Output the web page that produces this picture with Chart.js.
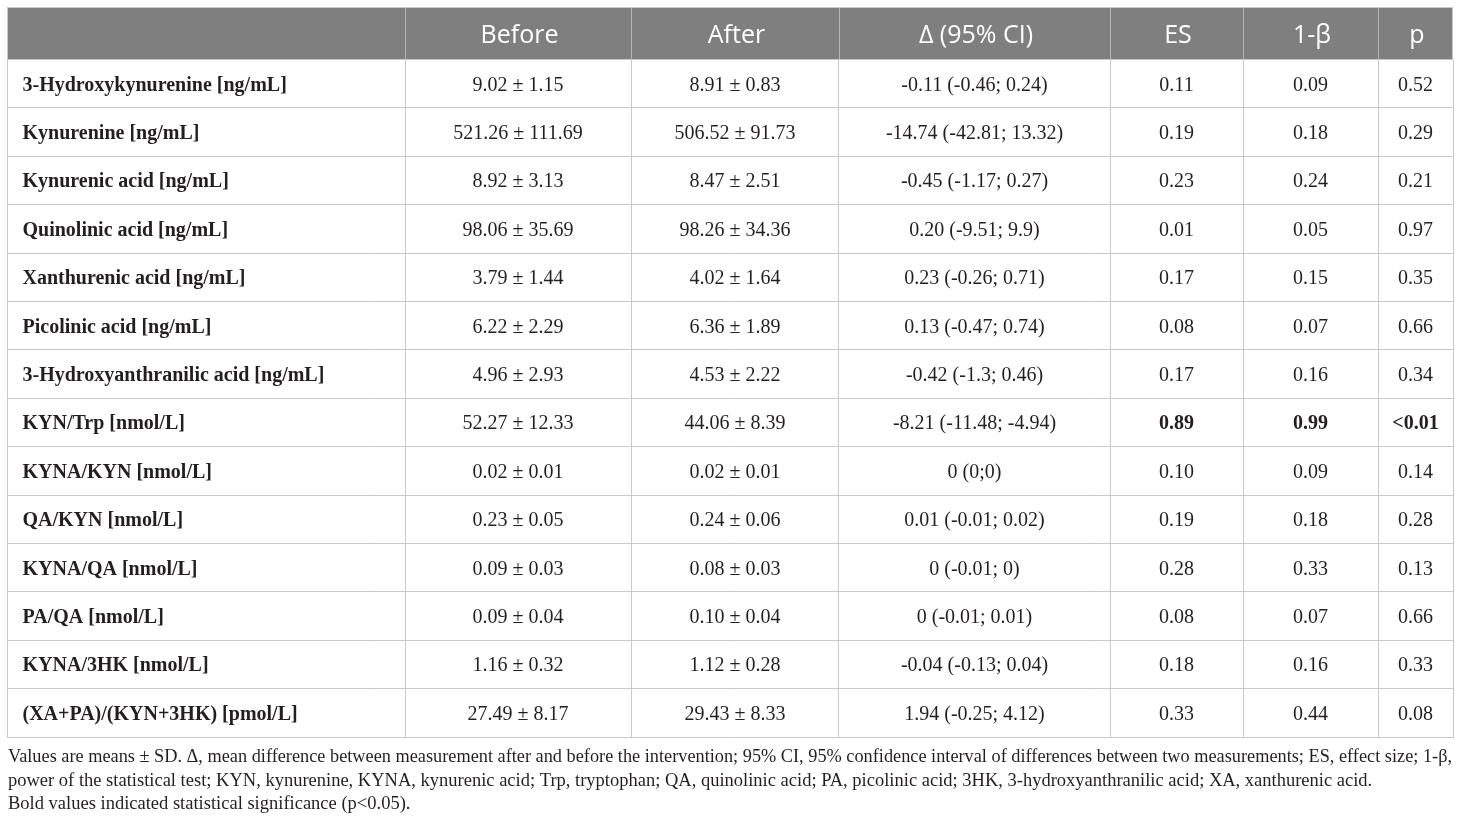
<!DOCTYPE html>
<html>
<head>
<meta charset="utf-8">
<script src="https://cdn.jsdelivr.net/npm/chart.js@4.4.1/dist/chart.umd.min.js"></script>
<style>
  html, body { margin: 0; padding: 0; background: #fff; }
  #wrap { width: 1460px; height: 823px; position: relative; }
</style>
</head>
<body>
<div id="wrap"><canvas id="kynTable"></canvas></div>
<script>
const rowLabels = [
  '3-Hydroxykynurenine [ng/mL]',
  'Kynurenine [ng/mL]',
  'Kynurenic acid [ng/mL]',
  'Quinolinic acid [ng/mL]',
  'Xanthurenic acid [ng/mL]',
  'Picolinic acid [ng/mL]',
  '3-Hydroxyanthranilic acid [ng/mL]',
  'KYN/Trp [nmol/L]',
  'KYNA/KYN [nmol/L]',
  'QA/KYN [nmol/L]',
  'KYNA/QA [nmol/L]',
  'PA/QA [nmol/L]',
  'KYNA/3HK [nmol/L]',
  '(XA+PA)/(KYN+3HK) [pmol/L]'
];
const beforeMean = [9.02, 521.26, 8.92, 98.06, 3.79, 6.22, 4.96, 52.27, 0.02, 0.23, 0.09, 0.09, 1.16, 27.49];
const beforeSD   = [1.15, 111.69, 3.13, 35.69, 1.44, 2.29, 2.93, 12.33, 0.01, 0.05, 0.03, 0.04, 0.32, 8.17];
const afterMean  = [8.91, 506.52, 8.47, 98.26, 4.02, 6.36, 4.53, 44.06, 0.02, 0.24, 0.08, 0.10, 1.12, 29.43];
const afterSD    = [0.83, 91.73, 2.51, 34.36, 1.64, 1.89, 2.22, 8.39, 0.01, 0.06, 0.03, 0.04, 0.28, 8.33];
const deltaCI = [
  '-0.11 (-0.46; 0.24)', '-14.74 (-42.81; 13.32)', '-0.45 (-1.17; 0.27)', '0.20 (-9.51; 9.9)',
  '0.23 (-0.26; 0.71)', '0.13 (-0.47; 0.74)', '-0.42 (-1.3; 0.46)', '-8.21 (-11.48; -4.94)',
  '0 (0;0)', '0.01 (-0.01; 0.02)', '0 (-0.01; 0)', '0 (-0.01; 0.01)', '-0.04 (-0.13; 0.04)', '1.94 (-0.25; 4.12)'
];
const effectSize = [0.11, 0.19, 0.23, 0.01, 0.17, 0.08, 0.17, 0.89, 0.10, 0.19, 0.28, 0.08, 0.18, 0.33];
const power      = [0.09, 0.18, 0.24, 0.05, 0.15, 0.07, 0.16, 0.99, 0.09, 0.18, 0.33, 0.07, 0.16, 0.44];
const pValues    = ['0.52', '0.29', '0.21', '0.97', '0.35', '0.66', '0.34', '<0.01', '0.14', '0.28', '0.13', '0.66', '0.33', '0.08'];
const columnHeaders = ['', 'Before', 'After', 'Δ (95% CI)', 'ES', '1-β', 'p'];
const significantRows = ['KYN/Trp [nmol/L]'];
const boldColumns = ['ES', '1-β', 'p'];
const footnoteLines = [
  'Values are means ± SD. Δ, mean difference between measurement after and before the intervention; 95% CI, 95% confidence interval of differences between two measurements; ES, effect size; 1-β,',
  'power of the statistical test; KYN, kynurenine, KYNA, kynurenic acid; Trp, tryptophan; QA, quinolinic acid; PA, picolinic acid; 3HK, 3-hydroxyanthranilic acid; XA, xanthurenic acid.',
  'Bold values indicated statistical significance (p<0.05).'
];

// layout: column widths on the x scale (1 unit = 1px here)
const colWidths = [398, 226, 208, 271, 133, 135, 75];
const colEdges = colWidths.reduce((acc, w) => { acc.push(acc[acc.length - 1] + w); return acc; }, [0]);
const colX = i => i === 0 ? 15.5 : (colEdges[i] + colEdges[i + 1]) / 2;

const fmtSD = (m, s) => m.toFixed(2) + ' ± ' + s.toFixed(2);
const cellText = [
  rowLabels,
  beforeMean.map((m, i) => fmtSD(m, beforeSD[i])),
  afterMean.map((m, i) => fmtSD(m, afterSD[i])),
  deltaCI,
  effectSize.map(v => v.toFixed(2)),
  power.map(v => v.toFixed(2)),
  pValues
];

const GRID = '#c9c9c9';
const INK = '#231f20';
const SERIF = '"Liberation Serif", "Times New Roman", serif';

const tablePlugin = {
  id: 'tablePlugin',
  beforeDraw(chart) {
    const ctx = chart.ctx;
    const area = chart.chartArea;
    const xs = chart.scales.x;
    const top = 7.5;
    ctx.save();
    ctx.fillStyle = '#7f7f7f';
    ctx.fillRect(area.left, top, area.right - area.left, area.top - top);
    // header separators
    ctx.strokeStyle = '#b5b5b5';
    ctx.lineWidth = 1;
    colEdges.slice(1, -1).forEach(v => {
      const px = Math.round(xs.getPixelForValue(v)) + 0.5;
      ctx.beginPath();
      ctx.moveTo(px, top);
      ctx.lineTo(px, area.top);
      ctx.stroke();
    });
    ctx.strokeStyle = GRID;
    ctx.strokeRect(area.left + 0.5, top, area.right - area.left - 1, area.top - top);
    ctx.fillStyle = '#ffffff';
    ctx.font = '25px "Open Sans", sans-serif';
    ctx.textAlign = 'center';
    ctx.textBaseline = 'alphabetic';
    columnHeaders.forEach((h, i) => {
      if (!h) return;
      ctx.fillText(h, xs.getPixelForValue(colX(i)) + 1.5, area.top - 16.8);
    });
    ctx.restore();
  },
  afterDatasetsDraw(chart) {
    const ctx = chart.ctx;
    ctx.save();
    ctx.fillStyle = INK;
    ctx.textBaseline = 'alphabetic';
    chart.data.datasets.forEach((ds, ci) => {
      const meta = chart.getDatasetMeta(ci);
      meta.data.forEach((pt, ri) => {
        const bold = ci === 0 ||
          (significantRows.includes(rowLabels[ri]) && boldColumns.includes(columnHeaders[ci]));
        ctx.font = (bold ? 'bold ' : '') + '20px ' + SERIF;
        ctx.textAlign = ci === 0 ? 'left' : 'center';
        ctx.fillText(cellText[ci][ri], pt.x, pt.y + 7);
      });
    });
    // footnote
    const area = chart.chartArea;
    ctx.textAlign = 'left';
    ctx.font = '18.5px ' + SERIF;
    const offs = [24.7, 48.5, 71.5];
    footnoteLines.forEach((line, i) => {
      const w = ctx.measureText(line).width;
      const maxW = 1444;
      if (w > maxW) {
        ctx.save();
        ctx.translate(8, area.bottom + offs[i]);
        ctx.scale(maxW / w, 1);
        ctx.fillText(line, 0, 0);
        ctx.restore();
      } else {
        ctx.fillText(line, 8, area.bottom + offs[i]);
      }
    });
    ctx.restore();
  }
};

new Chart(document.getElementById('kynTable'), {
  type: 'scatter',
  data: {
    labels: rowLabels,
    datasets: columnHeaders.map((h, ci) => ({
      label: h || 'Variable',
      data: rowLabels.map(r => ({ x: colX(ci), y: r })),
      pointRadius: 0,
      pointHoverRadius: 0
    }))
  },
  options: {
    responsive: true,
    maintainAspectRatio: false,
    animation: false,
    events: [],
    layout: { padding: { left: 7, right: 7, top: 59.5, bottom: 86 } },
    plugins: { legend: { display: false }, tooltip: { enabled: false } },
    scales: {
      x: {
        type: 'linear',
        min: 0,
        max: colEdges[colEdges.length - 1],
        afterBuildTicks: scale => { scale.ticks = colEdges.map(v => ({ value: v })); },
        ticks: { display: false },
        grid: { color: GRID, drawTicks: false },
        border: { color: GRID }
      },
      y: {
        type: 'category',
        labels: rowLabels,
        offset: true,
        ticks: { display: false },
        grid: { color: GRID, drawTicks: false, offset: true },
        border: { color: GRID }
      }
    }
  },
  plugins: [tablePlugin]
});
</script>
</body>
</html>
